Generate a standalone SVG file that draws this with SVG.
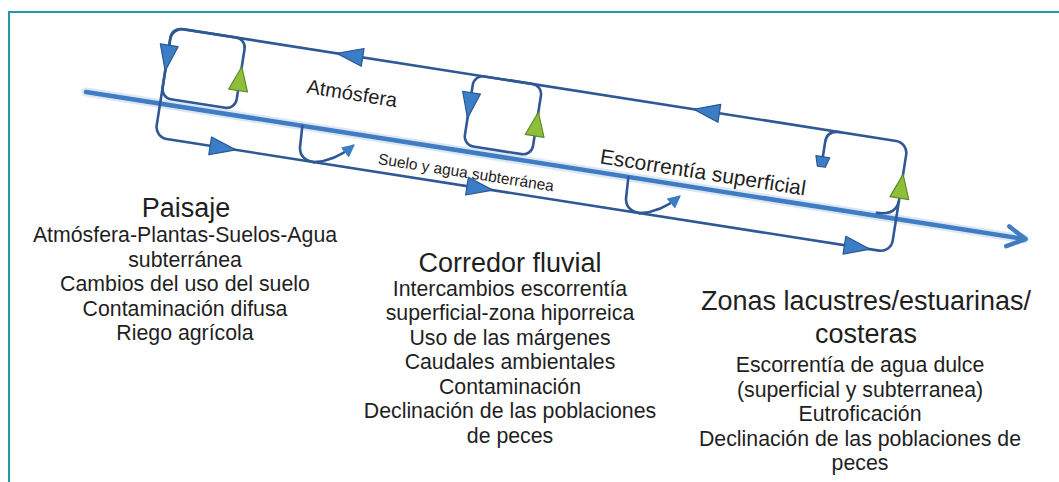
<svg xmlns="http://www.w3.org/2000/svg" width="1059" height="482" viewBox="0 0 1059 482">
<style>
.loop{fill:none;stroke:#2f5894;stroke-width:2.6;stroke-linejoin:round;stroke-linecap:round}
.river{fill:none;stroke:#3f7cc3;stroke-width:4.5;stroke-linecap:round;stroke-linejoin:round}
.glow{fill:none;stroke:#a6c3e6;stroke-width:9;opacity:.4;stroke-linecap:round}
.ab{fill:#3c7dc8;stroke:#2a5791;stroke-width:1.2;stroke-linejoin:round}
.ag{fill:#8dbf3a;stroke:#5f8a2a;stroke-width:1.2;stroke-linejoin:round}
.t{font-family:"Liberation Sans",Arial,sans-serif;fill:#1f1f1f;text-anchor:middle}
.h{font-size:27px}
.b{font-size:21.3px}
</style>
<defs>
<path id="tri" d="M13 0 L-13 -9 L-13 9 Z"/>
<path id="trg" d="M13 0 L-11 -9.5 L-11 9.5 Z"/>
<marker id="mk" viewBox="0 0 10 10" refX="8" refY="5" markerWidth="5" markerHeight="5" orient="auto" markerUnits="strokeWidth">
<path d="M0 0 L10 5 L0 10 Z" fill="#3c7dc8"/>
</marker>
</defs>
<rect width="1059" height="482" fill="#ffffff"/>
<path d="M9 482 V12 H1059" fill="none" stroke="#1f9aa6" stroke-width="2"/>

<g id="connectors" transform="translate(86 92) rotate(8.9)">
  <line class="glow" x1="0" y1="0" x2="950" y2="0"/>
  <line class="river" x1="0" y1="0" x2="950" y2="0"/>
  <polyline class="river" points="933,-10 951,0 933,10"/>
  <rect class="loop" x="75" y="-77" width="745" height="111" rx="12"/>
  <rect class="loop" x="75" y="-77" width="75" height="71" rx="10"/>
  <rect class="loop" x="381" y="-77" width="69" height="71" rx="10"/>
  <path class="loop" d="M752 -77 Q738 -77 738 -65 L738 -50"/>
  <path class="loop" d="M800 -3 Q819 -3 820 -18"/>
  <path class="loop" d="M219 0 L220 22 Q222 34 236 34"/>
  <path class="loop" d="M236 34 Q256 30 272 12" marker-end="url(#mk)"/>
  <path class="loop" d="M549 0 L550 22 Q552 34 566 34"/>
  <path class="loop" d="M566 34 Q586 30 602 12" marker-end="url(#mk)"/>
  <path class="ab" d="M731 -50 L745 -50 L742 -40 L734 -40 Z"/>
  <use href="#tri" class="ab" transform="translate(75 -46) rotate(90)"/>
  <use href="#tri" class="ab" transform="translate(381 -46) rotate(90)"/>
  <use href="#tri" class="ab" transform="translate(255 -77) rotate(180)"/>
  <use href="#tri" class="ab" transform="translate(616 -77) rotate(180)"/>
  <use href="#tri" class="ab" transform="translate(144 34)"/>
  <use href="#tri" class="ab" transform="translate(404 34)"/>
  <use href="#tri" class="ab" transform="translate(786 34)"/>
  <use href="#trg" class="ag" transform="translate(150 -36) rotate(-90)"/>
  <use href="#trg" class="ag" transform="translate(450 -37) rotate(-90)"/>
  <use href="#trg" class="ag" transform="translate(820 -32) rotate(-90)"/>
  <text class="t" x="263" y="-33" style="font-size:20px">Atmósfera</text>
  <text class="t" x="388" y="26" style="font-size:15.5px">Suelo y agua subterránea</text>
  <text class="t" x="622" y="-9" style="font-size:21px">Escorrentía superficial</text>
</g>

<g id="paisaje" class="t">
  <text class="h" x="186" y="217">Paisaje</text>
  <text class="b" x="185" y="242">Atmósfera-Plantas-Suelos-Agua</text>
  <text class="b" x="185" y="266.5">subterránea</text>
  <text class="b" x="185" y="291">Cambios del uso del suelo</text>
  <text class="b" x="185" y="315.5">Contaminación difusa</text>
  <text class="b" x="185" y="340">Riego agrícola</text>
</g>

<g id="corredor" class="t">
  <text class="h" x="510" y="271.5">Corredor fluvial</text>
  <text class="b" x="510" y="295.5">Intercambios escorrentía</text>
  <text class="b" x="510" y="320">superficial-zona hiporreica</text>
  <text class="b" x="510" y="344.5">Uso de las márgenes</text>
  <text class="b" x="510" y="369">Caudales ambientales</text>
  <text class="b" x="510" y="393.5">Contaminación</text>
  <text class="b" x="510" y="418">Declinación de las poblaciones</text>
  <text class="b" x="510" y="442.5">de peces</text>
</g>

<g id="zonas" class="t">
  <text class="h" x="866" y="310">Zonas lacustres/estuarinas/</text>
  <text class="h" x="866" y="343">costeras</text>
  <text class="b" x="860" y="372">Escorrentía de agua dulce</text>
  <text class="b" x="860" y="396.5">(superficial y subterranea)</text>
  <text class="b" x="860" y="421">Eutroficación</text>
  <text class="b" x="860" y="445.5">Declinación de las poblaciones de</text>
  <text class="b" x="860" y="470">peces</text>
</g>
</svg>
